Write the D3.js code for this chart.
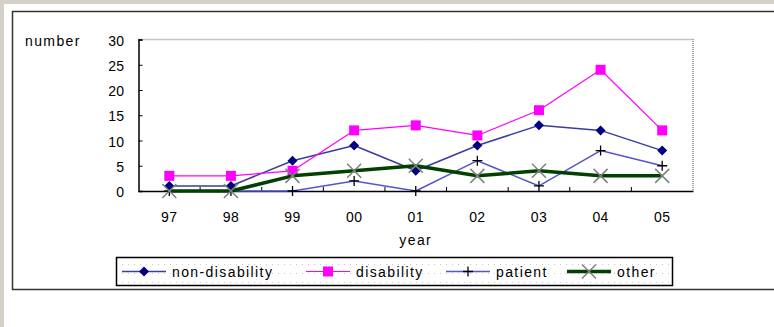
<!DOCTYPE html>
<html>
<head>
<meta charset="utf-8">
<script src="https://cdn.jsdelivr.net/npm/d3@7"></script>
<style>
  body { margin: 0; background: #d4d0c8; }
  svg { display: block; }
  text { font-family: "Liberation Sans", Arial, sans-serif; font-size: 14px; letter-spacing: 1.4px; fill: #000; }
  .tick text { letter-spacing: 0.4px; }
</style>
</head>
<body>
<script>
// line chart: number per year

const width = 774;
const height = 327;
const margin = {top: 39.5, left: 138.5, bottom: 136, right: 81};

const years = ['97', '98', '99', '00', '01', '02', '03', '04', '05'];
const nonDisability = [1, 1, 6, 9, 4, 9, 13, 12, 8];
const disability = [3, 3, 4, 12, 13, 11, 16, 24, 12];
const patient = [0, 0, 0, 2, 0, 6, 1, 8, 5];
const other = [0, 0, 3, 4, 5, 3, 4, 3, 3];
const yTicks = [0, 5, 10, 15, 20, 25, 30];
const seriesNames = ['non-disability', 'disability', 'patient', 'other'];

const series = [
    {name: seriesNames[0], values: nonDisability, stroke: '#3c3c9c', lw: 1.5, marker: 'diamond', mfill: '#000080'},
    {name: seriesNames[1], values: disability, stroke: '#ff00ff', lw: 1.2, marker: 'square', mfill: '#ff00ff'},
    {name: seriesNames[2], values: patient, stroke: '#5555cc', lw: 1.5, marker: 'plus', mfill: '#000'},
    {name: seriesNames[3], values: other, stroke: '#004000', lw: 3.5, marker: 'cross', mfill: '#808080'}
];

const x = d3.scaleBand()
    .domain(years)
    .range([margin.left, width - margin.right]);

const y = d3.scaleLinear()
    .domain([0, 30])
    .range([height - margin.bottom, margin.top]);

const cx = d => x(d) + x.bandwidth() / 2;

const svg = d3.select('body').append('svg').attr('width', width).attr('height', height);

// background / frame
svg.append('rect').attr('x', 4).attr('y', 4).attr('width', width).attr('height', height).attr('fill', '#fff');
svg.append('path')
    .attr('d', `M${width + 2},11.5 H12.5 V289.5 H${width + 2}`)
    .attr('fill', 'none').attr('stroke', '#333').attr('stroke-width', 1.5);

// plot border (dotted top/right)
svg.append('path')
    .attr('d', `M${margin.left},${margin.top} H${width - margin.right} V${height - margin.bottom}`)
    .attr('fill', 'none').attr('stroke', '#888').attr('stroke-width', 1.5).attr('stroke-dasharray', '1,1');

// axes
const xAxis = g => g
    .attr('transform', `translate(0, ${height - margin.bottom})`)
    .call(d3.axisBottom(x).tickSize(0).tickPadding(21))
    .call(g => g.select('.domain').attr('stroke', '#000').attr('stroke-width', 1.5))
    .call(g => g.selectAll('text').attr('font-size', null).attr('font-family', null))
    .call(g => g.selectAll('.bnd').data(years.slice(1)).enter().append('line')
        .attr('class', 'bnd')
        .attr('x1', d => x(d)).attr('x2', d => x(d))
        .attr('y1', 0).attr('y2', -4).attr('stroke', '#000'));

const yAxis = g => g
    .attr('transform', `translate(${margin.left}, 0)`)
    .call(d3.axisLeft(y).tickValues(yTicks).tickSize(-4).tickPadding(14))
    .call(g => g.select('.domain').attr('stroke', '#000').attr('stroke-width', 1.5))
    .call(g => g.selectAll('.tick line').attr('stroke', '#000'))
    .call(g => g.selectAll('text').attr('font-size', null).attr('font-family', null).attr('dy', '0.4em'));

svg.append('g').call(xAxis);
svg.append('g').call(yAxis);

svg.append('text').attr('x', 25).attr('y', 46).text('number');
svg.append('text').attr('x', (margin.left + width - margin.right) / 2).attr('y', 245)
    .attr('text-anchor', 'middle').text('year');

// marker drawing
function marker(g, s, px, py) {
    if (s.marker === 'diamond') {
        g.append('path').attr('d', `M${px},${py - 5}L${px + 5},${py}L${px},${py + 5}L${px - 5},${py}Z`)
            .attr('fill', s.mfill);
    } else if (s.marker === 'square') {
        g.append('rect').attr('x', px - 5).attr('y', py - 5).attr('width', 10).attr('height', 10)
            .attr('fill', s.mfill);
    } else if (s.marker === 'plus') {
        g.append('path').attr('d', `M${px - 5},${py}H${px + 5}M${px},${py - 5}V${py + 5}`)
            .attr('stroke', s.mfill).attr('stroke-width', 1.3);
    } else {
        g.append('path').attr('d', `M${px - 7},${py - 7}L${px + 7},${py + 7}M${px - 7},${py + 7}L${px + 7},${py - 7}`)
            .attr('stroke', s.mfill).attr('stroke-width', 1.5);
    }
}

const line = d3.line().x((d, i) => cx(years[i])).y(d => y(d));

// draw order: patient, non-disability, disability, other
[2, 0, 1, 3].forEach(k => {
    const s = series[k];
    const g = svg.append('g');
    g.append('path').datum(s.values).attr('d', line)
        .attr('fill', 'none').attr('stroke', s.stroke).attr('stroke-width', s.lw)
        .attr('stroke-linejoin', 'round');
    s.values.forEach((v, i) => marker(g, s, cx(years[i]), y(v)));
});

// legend
const defs = svg.append('defs');
const pat = defs.append('pattern').attr('id', 'dots').attr('patternUnits', 'userSpaceOnUse')
    .attr('width', 6).attr('height', 9);
pat.append('rect').attr('width', 6).attr('height', 9).attr('fill', '#fff');
pat.append('rect').attr('x', 2).attr('y', 3).attr('width', 1).attr('height', 1).attr('fill', '#c8c8c8');

svg.append('rect').attr('x', 116.5).attr('y', 257.5).attr('width', 556).attr('height', 28)
    .attr('fill', 'url(#dots)').attr('stroke', '#000').attr('stroke-width', 1.5);

const legendX = [122, 306, 446, 567];
series.forEach((s, i) => {
    const g = svg.append('g');
    const lx = legendX[i];
    g.append('line').attr('x1', lx).attr('x2', lx + 44).attr('y1', 271.5).attr('y2', 271.5)
        .attr('stroke', s.stroke).attr('stroke-width', s.lw);
    marker(g, s, lx + 22, 271.5);
    g.append('text').attr('x', lx + 50).attr('y', 277).text(s.name);
});

svg.node();
</script>
</body>
</html>
